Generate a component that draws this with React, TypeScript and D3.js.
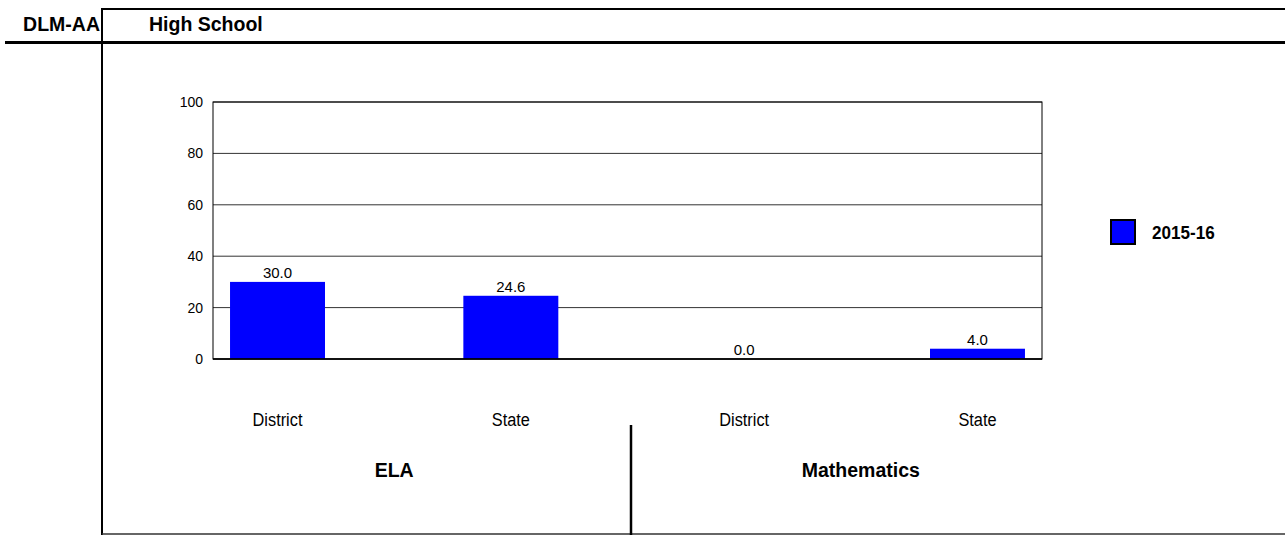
import React from "react";
import * as d3 from "d3";

const categories = ["District", "State", "District", "State"];
const groups = ["ELA", "ELA", "Mathematics", "Mathematics"];
const groupNames = ["ELA", "Mathematics"];
const values2015 = [30.0, 24.6, 0.0, 4.0];
const yTicks = [0, 20, 40, 60, 80, 100];
const seriesName = "2015-16";
const sectionLabel = "DLM-AA";
const titleLabel = "High School";

const W = 1285;
const H = 535;
const plot = { left: 213, right: 1042, top: 102, bottom: 359 };
const font = "Liberation Sans, Arial, sans-serif";

export default function App() {
  const idx = categories.map((_, i) => String(i));
  const x = d3
    .scaleBand<string>()
    .domain(idx)
    .range([plot.left, plot.right])
    .paddingInner(0.593)
    .paddingOuter(0.073);
  const y = d3.scaleLinear().domain([0, 100]).range([plot.bottom, plot.top]);
  const center = (i: number) => (x(String(i)) ?? 0) + x.bandwidth() / 2;

  const groupCenters = groupNames.map((g) => {
    const ids = groups.map((gg, i) => (gg === g ? i : -1)).filter((i) => i >= 0);
    return d3.mean(ids.map(center)) ?? 0;
  });
  const dividerX = (plot.left + plot.right) / 2 + 3.5;

  return (
    <svg
      width={W}
      height={H}
      style={{ position: "absolute", left: 0, top: 0, background: "#fff" }}
      fontFamily={font}
    >
      {/* header frame */}
      <line x1={102} x2={W} y1={9} y2={9} stroke="#000" strokeWidth={2} />
      <line x1={5} x2={W} y1={42.5} y2={42.5} stroke="#000" strokeWidth={3} />
      <line x1={102} x2={102} y1={8} y2={H} stroke="#000" strokeWidth={2} />
      <line x1={102} x2={W} y1={534} y2={534} stroke="#333" strokeWidth={1.5} />
      <text x={100} y={30.5} textAnchor="end" fontWeight="bold" fontSize={19.5} fill="#000">
        {sectionLabel}
      </text>
      <text x={149} y={30.5} fontWeight="bold" fontSize={19.5} fill="#000">
        {titleLabel}
      </text>

      {/* gridlines */}
      {yTicks.map((t) => (
        <line
          key={t}
          x1={plot.left}
          x2={plot.right}
          y1={y(t)}
          y2={y(t)}
          stroke="#333"
          strokeWidth={1}
        />
      ))}
      {yTicks.map((t) => (
        <text key={"l" + t} x={203} y={y(t) + 5} textAnchor="end" fontSize={14} fill="#000">
          {t}
        </text>
      ))}

      {/* bars */}
      {values2015.map((v, i) => (
        <g key={i}>
          <rect
            x={x(String(i))}
            y={y(v)}
            width={x.bandwidth()}
            height={plot.bottom - y(v)}
            fill="#0000ff"
          />
          <text x={center(i)} y={y(v) - 4} textAnchor="middle" fontSize={15} fill="#000">
            {v.toFixed(1)}
          </text>
        </g>
      ))}

      {/* plot frame */}
      <rect
        x={plot.left}
        y={plot.top}
        width={plot.right - plot.left}
        height={plot.bottom - plot.top}
        fill="none"
        stroke="#000"
        strokeWidth={1}
      />
      <line x1={plot.left} x2={plot.right} y1={plot.bottom} y2={plot.bottom} stroke="#000" strokeWidth={1.5} />

      {/* category labels, condensed horizontally */}
      {categories.map((c, i) => (
        <text
          key={"c" + i}
          transform={`translate(${center(i)},425.5) scale(0.86,1)`}
          textAnchor="middle"
          fontSize={19}
          fill="#000"
        >
          {c}
        </text>
      ))}
      {groupNames.map((g, i) => (
        <text key={g} x={groupCenters[i]} y={476.5} textAnchor="middle" fontWeight="bold" fontSize={19.5} fill="#000">
          {g}
        </text>
      ))}
      <line x1={dividerX} x2={dividerX} y1={425} y2={H} stroke="#000" strokeWidth={2.5} />

      {/* legend */}
      <rect x={1111} y={220} width={24} height={24} fill="#0000ff" stroke="#000" strokeWidth={2} />
      <text transform="translate(1152,239) scale(0.95,1)" fontWeight="bold" fontSize={18} fill="#000">
        {seriesName}
      </text>
    </svg>
  );
}
